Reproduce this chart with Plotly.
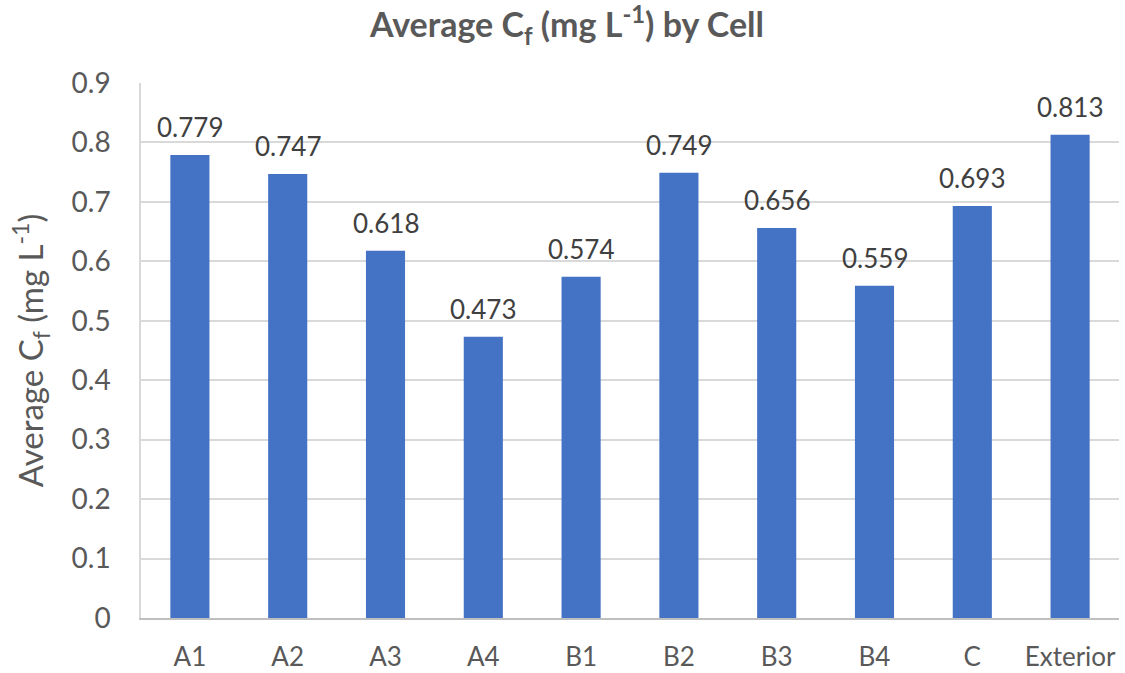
import plotly.graph_objects as go

cells = ["A1", "A2", "A3", "A4", "B1", "B2", "B3", "B4", "C", "Exterior"]
avg_cf = [0.779, 0.747, 0.618, 0.473, 0.574, 0.749, 0.656, 0.559, 0.693, 0.813]
y_ticks = [0, 0.1, 0.2, 0.3, 0.4, 0.5, 0.6, 0.7, 0.8, 0.9]
y_tick_labels = ["0", "0.1", "0.2", "0.3", "0.4", "0.5", "0.6", "0.7", "0.8", "0.9"]

FONT = "Lato, Open Sans, sans-serif"

fig = go.Figure(go.Bar(
    x=cells, y=avg_cf,
    marker=dict(color="#4472C4", line=dict(width=0)),
    hoverinfo="x+y",
))

for c, v in zip(cells, avg_cf):
    fig.add_annotation(
        x=c, y=v, xref="x", yref="y",
        text=f"{v:.3f}", showarrow=False,
        yanchor="middle", yshift=28,
        font=dict(family=FONT, size=26, color="#404040"),
    )

fig.update_layout(
    width=1125, height=673,
    margin=dict(l=141, r=6, t=83, b=55),
    paper_bgcolor="white", plot_bgcolor="white",
    bargap=0.6,
    showlegend=False,
    title=dict(
        text="<b>Average C<sub>f</sub> (mg L<sup>-1</sup>) by Cell</b>",
        x=0.504, xref="container", xanchor="center",
        y=0.962, yref="container", yanchor="middle",
        font=dict(family=FONT, size=34, color="#595959"),
    ),
    xaxis=dict(
        automargin=False,
        showgrid=False, showline=True, linecolor="#BFBFBF", linewidth=1.5,
        ticks="", tickfont=dict(family=FONT, size=26, color="#595959"),
        ticklabelstandoff=15,
    ),
    yaxis=dict(
        automargin=False,
        range=[0, 0.9], tickvals=y_ticks, ticktext=y_tick_labels,
        showgrid=True, gridcolor="#D9D9D9", gridwidth=1.5,
        showline=True, linecolor="#D9D9D9", linewidth=1.5,
        zeroline=False, ticks="",
        tickfont=dict(family=FONT, size=28, color="#595959"),
        ticklabelstandoff=23,
        title=dict(text="Average C<sub>f</sub> (mg L<sup>-1</sup>)",
                   font=dict(family=FONT, size=33, color="#595959"),
                   standoff=18),
    ),
)

fig.write_html("out.html")
